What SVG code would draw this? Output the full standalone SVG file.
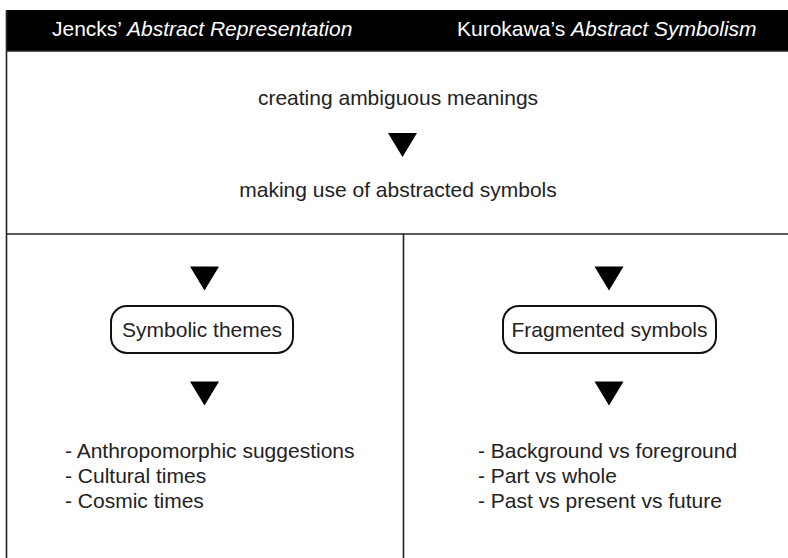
<svg xmlns="http://www.w3.org/2000/svg" width="788" height="558" viewBox="0 0 788 558">
<style>
  .t{font-family:"Liberation Sans",Arial,sans-serif;font-size:21px;fill:#222}
  .h{font-family:"Liberation Sans",Arial,sans-serif;font-size:21px;fill:#fff}
  .i{font-style:italic}
  .line{stroke:#222;stroke-width:1.6;fill:none}
  .box{fill:#fff;stroke:#111;stroke-width:2}
  .arr{fill:#000}
</style>
<defs>
  <polygon id="tri" points="-14.5,0 14.5,0 0,24"/>
</defs>
<rect x="0" y="0" width="788" height="558" fill="#fff"/>
<g id="frame">
  <rect x="6" y="10" width="790" height="41" fill="#000"/>
  <line class="line" x1="6.5" y1="10" x2="6.5" y2="558"/>
  <line class="line" x1="6" y1="51" x2="788" y2="51"/>
  <line class="line" x1="6" y1="234" x2="788" y2="234"/>
  <line class="line" x1="403.5" y1="234" x2="403.5" y2="558"/>
</g>
<g id="header-left"><text class="h" x="52" y="36">Jencks’ <tspan class="i">Abstract Representation</tspan></text></g>
<g id="header-right"><text class="h" x="457" y="36">Kurokawa’s <tspan class="i">Abstract Symbolism</tspan></text></g>
<g id="top1"><text class="t" x="398" y="105" text-anchor="middle">creating ambiguous meanings</text></g>
<g id="top2"><text class="t" x="398" y="197" text-anchor="middle">making use of abstracted symbols</text></g>
<g id="box-left">
  <rect class="box" x="111" y="306" width="182" height="47" rx="16"/>
  <text class="t" x="202" y="337" text-anchor="middle">Symbolic themes</text>
</g>
<g id="box-right">
  <rect class="box" x="503" y="306" width="213" height="47" rx="16"/>
  <text class="t" x="609.5" y="337" text-anchor="middle">Fragmented symbols</text>
</g>
<g id="list-left">
  <text class="t" x="65" y="458">- Anthropomorphic suggestions</text>
  <text class="t" x="65" y="483">- Cultural times</text>
  <text class="t" x="65" y="508">- Cosmic times</text>
</g>
<g id="list-right">
  <text class="t" x="478" y="458">- Background vs foreground</text>
  <text class="t" x="478" y="483">- Part vs whole</text>
  <text class="t" x="478" y="508">- Past vs present vs future</text>
</g>
<g id="connectors" class="arr">
  <use href="#tri" x="402.5" y="133"/>
  <use href="#tri" x="204.5" y="266.5"/>
  <use href="#tri" x="609" y="266.5"/>
  <use href="#tri" x="204.5" y="381.5"/>
  <use href="#tri" x="609" y="381.5"/>
</g>
</svg>
